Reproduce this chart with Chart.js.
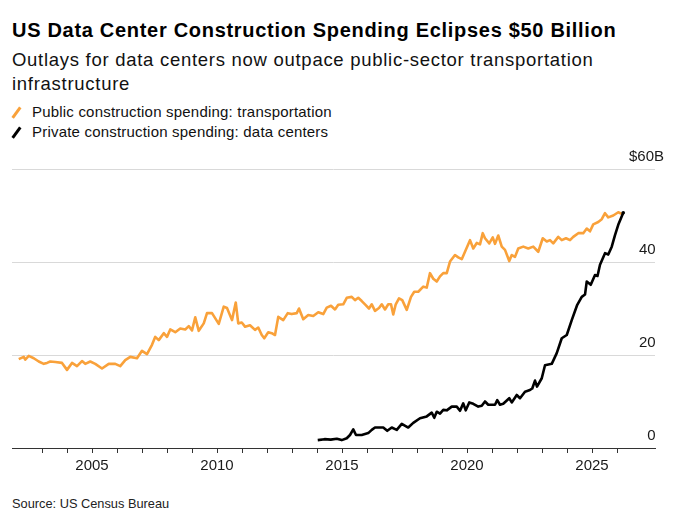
<!DOCTYPE html>
<html>
<head>
<meta charset="utf-8">
<script src="https://cdn.jsdelivr.net/npm/chart.js@4.4.1/dist/chart.umd.min.js"></script>
<style>
html,body{margin:0;padding:0;background:#fff;width:680px;height:521px;overflow:hidden;font-family:"Liberation Sans",Arial,sans-serif;color:#000}
.t{position:absolute;white-space:nowrap}
#title{left:12px;top:18.4px;font-size:20px;line-height:24px;font-weight:700;letter-spacing:0.7px}
#sub{left:12px;top:47.6px;font-size:18.5px;line-height:24px;letter-spacing:0.72px;color:#111}
.leg{left:32px;font-size:15px;line-height:20px;letter-spacing:0.2px;color:#111}
#leg1{top:101.5px}
#leg2{top:121.5px}
.sl{position:absolute;width:2.6px;height:13px;transform:rotate(36deg)}
#s1{left:15.4px;top:106px;background:#F9A13A}
#s2{left:15.4px;top:125.5px;background:#000}
#src{left:12px;top:496px;font-size:12.8px;line-height:16px;color:#222}
#wrap{position:absolute;left:0;top:140px;width:680px;height:340px}
</style>
</head>
<body>
<div class="t" id="title">US Data Center Construction Spending Eclipses $50 Billion</div>
<div class="t" id="sub">Outlays for data centers now outpace public-sector transportation<br>infrastructure</div>
<div class="sl" id="s1"></div>
<div class="t leg" id="leg1">Public construction spending: transportation</div>
<div class="sl" id="s2"></div>
<div class="t leg" id="leg2">Private construction spending: data centers</div>
<div class="t" id="src">Source: US Census Bureau</div>
<div id="wrap"><canvas id="c" width="680" height="340"></canvas></div>
<script>
// Public construction spending: transportation ($B, annualized)
const transportYears = [
2002.07,2002.27,2002.33,2002.47,2002.67,2002.87,2003.07,2003.2,2003.33,2003.53,2003.8,2004.0,2004.2,2004.4,2004.6,2004.73,2004.93,
2005.13,2005.4,2005.67,2005.93,2006.13,2006.33,2006.53,2006.8,2007.0,2007.2,2007.4,2007.53,2007.67,2007.87,2008.0,2008.13,2008.33,
2008.53,2008.73,2008.87,2009.0,2009.13,2009.27,2009.47,2009.6,2009.8,2010.07,2010.27,2010.4,2010.6,2010.75,2010.85,2010.99,2011.12,
2011.32,2011.52,2011.65,2011.79,2011.89,2012.05,2012.19,2012.32,2012.45,2012.65,2012.83,2012.99,2013.19,2013.28,2013.45,2013.65,
2013.85,2014.05,2014.25,2014.39,2014.56,2014.72,2014.85,2015.05,2015.19,2015.39,2015.52,2015.65,2015.79,2015.92,2016.08,2016.19,
2016.32,2016.48,2016.59,2016.72,2016.85,2016.96,2017.05,2017.15,2017.28,2017.41,2017.59,2017.76,2017.89,2018.05,2018.25,2018.39,
2018.52,2018.65,2018.79,2018.92,2019.05,2019.19,2019.32,2019.52,2019.65,2019.79,2019.92,2020.12,2020.25,2020.39,2020.52,2020.63,
2020.72,2020.89,2021.03,2021.12,2021.25,2021.39,2021.52,2021.69,2021.79,2021.92,2022.05,2022.25,2022.45,2022.65,2022.85,2023.03,
2023.19,2023.32,2023.45,2023.65,2023.79,2023.96,2024.12,2024.25,2024.45,2024.65,2024.79,2024.92,2025.05,2025.25,2025.39,2025.52,
2025.65,2025.85,2026.05,2026.25
];
const transportValues = [
19.1,19.6,19.0,19.8,19.3,18.6,18.1,18.3,18.6,18.5,18.3,16.8,18.3,17.6,18.7,18.1,18.6,
18.1,17.1,18.1,18.1,17.6,18.9,19.6,19.3,20.9,20.2,22.2,23.9,23.2,24.7,23.9,25.5,24.9,
25.7,25.5,26.2,25.3,28.1,25.2,26.8,29.0,29.0,26.7,30.4,30.1,27.5,31.3,26.8,27.0,26.1,
26.4,25.4,25.9,24.3,23.6,24.9,24.7,24.3,28.2,27.5,29.0,28.8,29.0,30.0,27.7,28.6,
28.4,29.2,28.8,30.2,30.6,29.8,30.8,30.9,32.3,32.5,31.8,32.3,31.6,30.9,30.0,30.9,
29.5,30.1,30.9,29.8,30.9,30.9,28.7,30.9,32.2,31.8,29.7,32.5,33.6,33.6,34.7,34.5,
37.6,36.4,35.8,36.9,37.6,37.6,40.1,41.5,41.0,40.6,42.2,44.7,42.9,44.1,43.8,46.2,
45.1,44.0,45.3,43.9,45.7,43.3,42.6,40.2,41.5,41.1,42.9,43.3,42.9,43.3,42.2,45.1,
44.4,44.7,44.0,45.4,44.7,45.1,44.7,45.4,46.2,46.2,47.2,46.6,48.1,48.6,49.2,50.5,
49.6,50.0,50.7,50.2
];
// Private construction spending: data centers ($B, annualized)
const dataCenterYears = [
2014.03,2014.3,2014.55,2014.79,2014.99,2015.19,2015.32,2015.45,2015.56,2015.79,2016.05,2016.19,2016.32,2016.52,2016.65,2016.81,
2016.99,2017.19,2017.39,2017.65,2017.85,2018.12,2018.39,2018.59,2018.69,2018.79,2018.92,2019.05,2019.19,2019.39,2019.59,2019.72,
2019.85,2019.95,2020.09,2020.25,2020.45,2020.59,2020.72,2020.85,2021.12,2021.21,2021.32,2021.45,2021.69,2021.79,2021.99,2022.12,
2022.32,2022.49,2022.61,2022.72,2022.8,2022.99,2023.12,2023.39,2023.59,2023.79,2023.99,2024.19,2024.41,2024.59,2024.72,2024.79,
2024.95,2025.12,2025.22,2025.32,2025.52,2025.65,2025.79,2025.92,2026.05,2026.25
];
const dataCenterValues = [
1.7,1.9,1.8,2.0,1.7,2.1,2.8,4.0,2.8,2.8,3.2,3.9,4.4,4.4,4.4,3.7,
4.4,3.9,5.2,4.4,5.4,6.4,6.8,7.6,6.5,7.8,7.4,8.2,8.1,8.9,8.9,8.0,
9.6,8.1,9.8,9.5,8.9,9.1,10.0,9.3,9.3,10.3,9.3,9.5,10.7,9.8,11.4,10.7,
12.1,12.4,12.8,14.5,13.2,15.0,17.8,18.1,20.4,23.6,24.3,27.5,30.8,32.5,33.0,35.8,
35.1,37.2,37.0,39.4,41.9,41.6,43.3,45.8,48.0,50.6
];
const xTickYears = [2003,2004,2005,2006,2007,2008,2009,2010,2011,2012,2013,2014,2015,2016,2017,2018,2019,2020,2021,2022,2023,2024,2025,2026];
const xLabelYears = [2005,2010,2015,2020,2025];
const yTickValues = [0,20,40,60];
const yTickLabels = ['0\u2007','20\u2007','40\u2007','$60B'];

const ORANGE = '#F9A13A';
Chart.defaults.font.family = '"Liberation Sans", Arial, sans-serif';

const toPts = (xs, ys) => xs.map((x, i) => ({x: x, y: ys[i]}));

new Chart(document.getElementById('c'), {
  type: 'line',
  data: {
    datasets: [
      {
        label: 'Private construction spending: data centers',
        data: toPts(dataCenterYears, dataCenterValues),
        borderColor: '#000',
        backgroundColor: '#000',
        borderWidth: 2.6,
        pointRadius: dataCenterValues.map((v, i) => i === dataCenterValues.length - 1 ? 1.8 : 0),
        pointBorderWidth: 0,
        tension: 0,
        borderJoinStyle: 'round',
        order: 0
      },
      {
        label: 'Public construction spending: transportation',
        data: toPts(transportYears, transportValues),
        borderColor: ORANGE,
        backgroundColor: ORANGE,
        borderWidth: 2.6,
        pointRadius: 0,
        tension: 0,
        borderJoinStyle: 'round',
        order: 1
      }
    ]
  },
  options: {
    responsive: false,
    animation: false,
    events: [],
    layout: {padding: {left: 12, right: 25, top: 29, bottom: 2}},
    plugins: {legend: {display: false}, tooltip: {enabled: false}},
    scales: {
      x: {
        type: 'linear',
        min: 2001.8,
        max: 2027.52,
        afterBuildTicks: (s) => { s.ticks = xTickYears.map(v => ({value: v})); },
        afterFit: (s) => { s.height = 30; },
        ticks: {
          autoSkip: false,
          maxRotation: 0,
          padding: 4,
          color: '#1a1a1a',
          font: {size: 15},
          callback: (v) => xLabelYears.includes(v) ? String(v) : ''
        },
        grid: {drawOnChartArea: false, drawTicks: true, tickLength: 5, color: '#333', lineWidth: 1},
        border: {display: true, color: '#333', width: 1}
      },
      y: {
        type: 'linear',
        position: 'right',
        min: 0,
        max: 60,
        afterBuildTicks: (s) => { s.ticks = yTickValues.map(v => ({value: v})); },
        afterFit: (s) => { s.width = 0; },
        ticks: {
          mirror: true,
          padding: 9,
          labelOffset: -12,
          color: '#1a1a1a',
          font: {size: 15},
          callback: (v) => yTickLabels[yTickValues.indexOf(v)]
        },
        grid: {drawTicks: false, color: '#d9d9d9', lineWidth: 1},
        border: {display: false}
      }
    }
  }
});
</script>
</body>
</html>
